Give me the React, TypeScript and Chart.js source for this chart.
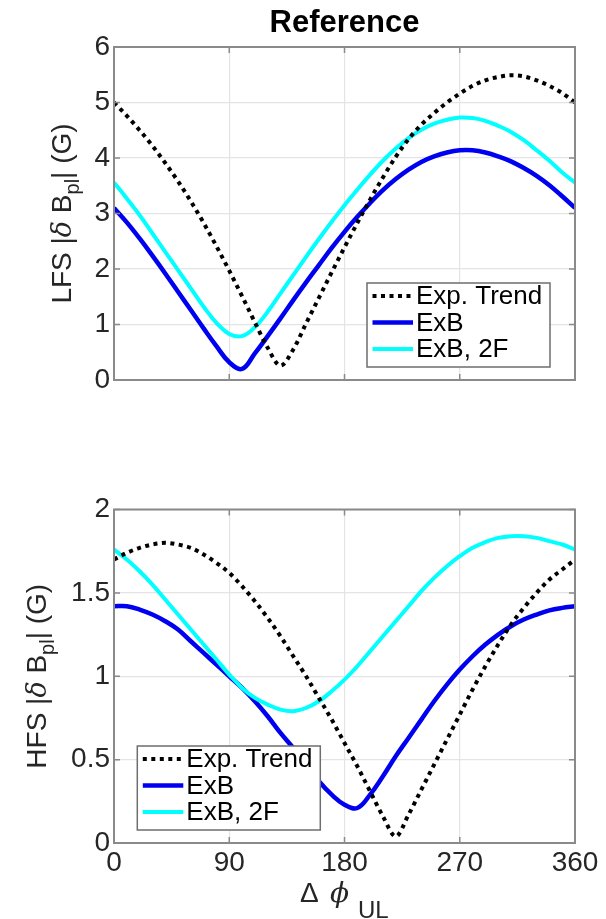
import React, { useEffect, useRef } from "react";
import { Chart, registerables } from "chart.js";

Chart.register(...registerables);

// Phase difference grid (degrees) and axis ticks
const PHI = [
  0, 10, 20, 30, 40, 50, 60, 70, 80, 90, 100, 110, 120, 130, 140, 150, 160, 170, 180,
  190, 200, 210, 220, 230, 240, 250, 260, 270, 280, 290, 300, 310, 320, 330, 340, 350, 360,
];
const PHI_TICKS = [0, 90, 180, 270, 360];
const LFS_TICKS = [0, 1, 2, 3, 4, 5, 6];
const HFS_TICKS = [0, 0.5, 1, 1.5, 2];

const SERIES_NAMES = ["Exp. Trend", "ExB", "ExB, 2F"];

// Low-field side |dB_pl| (G)
const LFS_TREND = [
  5.0, 4.76, 4.5, 4.22, 3.91, 3.58, 3.22, 2.83, 2.41, 1.97, 1.51, 1.04, 0.58, 0.26, 0.55, 1.02,
  1.48, 1.94, 2.39, 2.83, 3.25, 3.65, 4.02, 4.34, 4.6, 4.81, 5.0, 5.16, 5.3, 5.4, 5.46, 5.49,
  5.47, 5.4, 5.3, 5.17, 5.0,
];
const LFS_EXB = [
  3.1, 2.84, 2.55, 2.24, 1.92, 1.59, 1.26, 0.93, 0.61, 0.32, 0.2, 0.48, 0.79, 1.11, 1.44, 1.76,
  2.07, 2.38, 2.67, 2.94, 3.19, 3.42, 3.62, 3.79, 3.93, 4.03, 4.1, 4.14, 4.14, 4.1, 4.03, 3.94,
  3.82, 3.68, 3.51, 3.31, 3.1,
];
const LFS_EXB_2F = [
  3.56, 3.27, 2.97, 2.64, 2.31, 1.98, 1.65, 1.32, 1.03, 0.83, 0.79, 0.95, 1.23, 1.56, 1.89, 2.22,
  2.54, 2.85, 3.15, 3.43, 3.7, 3.95, 4.17, 4.36, 4.51, 4.62, 4.69, 4.73, 4.72, 4.67, 4.58, 4.47,
  4.32, 4.14, 3.95, 3.74, 3.56,
];

// High-field side |dB_pl| (G)
const HFS_TREND = [
  1.7, 1.74, 1.77, 1.79, 1.8, 1.79, 1.77, 1.73, 1.68, 1.62, 1.54, 1.45, 1.35, 1.24, 1.12, 1.0,
  0.87, 0.74, 0.6, 0.46, 0.31, 0.16, 0.04, 0.17, 0.32, 0.47, 0.62, 0.77, 0.92, 1.06, 1.19, 1.31,
  1.41, 1.5, 1.58, 1.64, 1.7,
];
const HFS_EXB = [
  1.42, 1.42, 1.4, 1.37, 1.33, 1.28, 1.21, 1.14, 1.07, 1.0, 0.93, 0.85, 0.76, 0.66, 0.57, 0.47,
  0.37, 0.29, 0.23, 0.21, 0.29, 0.4, 0.52, 0.63, 0.74, 0.85, 0.95, 1.04, 1.12, 1.19, 1.25, 1.3,
  1.34, 1.37, 1.395, 1.41, 1.42,
];
const HFS_EXB_2F = [
  1.76, 1.7, 1.63, 1.55, 1.46, 1.37, 1.28, 1.19, 1.1, 1.01, 0.93, 0.87, 0.83, 0.8, 0.79, 0.81,
  0.85, 0.91, 0.98, 1.06, 1.15, 1.24, 1.33, 1.42, 1.51, 1.59, 1.66, 1.72, 1.77, 1.805, 1.83, 1.84,
  1.84, 1.83, 1.81, 1.79, 1.76,
];

const FONT = "'Liberation Sans', Arial, Helvetica, sans-serif";
const SERIF = "'DejaVu Serif', 'Liberation Serif', serif";
const TEXT_COLOR = "#262626";
const AXIS_COLOR = "#8a8a8a";
const GRID_COLOR = "#e4e4e4";
const TICK_LEN = 6;

const STYLES = [
  { color: "#000000", width: 4, dash: [4, 4.5], smooth: "monotone" },
  { color: "#0000f0", width: 4.5, dash: [] as number[], smooth: "default" },
  { color: "#00ffff", width: 4, dash: [] as number[], smooth: "default" },
];

const LEG_W = 183;
const LEG_H = 84;
const LEG_ROWS = [13, 39.5, 66];

type Part = { text: string; font: string; dy: number };

function drawParts(ctx: CanvasRenderingContext2D, parts: Part[], startX: number) {
  let x = startX;
  for (const p of parts) {
    ctx.font = p.font;
    ctx.fillText(p.text, x, p.dy);
    x += ctx.measureText(p.text).width;
  }
}

function partsWidth(ctx: CanvasRenderingContext2D, parts: Part[]) {
  let w = 0;
  for (const p of parts) {
    ctx.font = p.font;
    w += ctx.measureText(p.text).width;
  }
  return w;
}

const panelDecor = {
  id: "panelDecor",
  afterDatasetsDraw(chart: any, _args: any, o: any) {
    const { ctx, chartArea: a } = chart;
    const xs = chart.scales.x;
    const ys = chart.scales.y;
    ctx.save();
    // inward tick marks on all four sides
    ctx.strokeStyle = AXIS_COLOR;
    ctx.lineWidth = 1.5;
    ctx.beginPath();
    for (const v of PHI_TICKS) {
      const px = xs.getPixelForValue(v);
      ctx.moveTo(px, a.bottom);
      ctx.lineTo(px, a.bottom - TICK_LEN);
      ctx.moveTo(px, a.top);
      ctx.lineTo(px, a.top + TICK_LEN);
    }
    for (const v of o.yTicks) {
      const py = ys.getPixelForValue(v);
      ctx.moveTo(a.left, py);
      ctx.lineTo(a.left + TICK_LEN, py);
      ctx.moveTo(a.right, py);
      ctx.lineTo(a.right - TICK_LEN, py);
    }
    ctx.stroke();
    // axes box
    ctx.lineWidth = 2;
    ctx.strokeRect(a.left, a.top, a.right - a.left, a.bottom - a.top);

    // legend box
    const bx = o.legendSide === "right" ? a.right - o.legendDx : a.left + o.legendDx;
    const by = a.bottom - o.legendDy;
    ctx.fillStyle = "#ffffff";
    ctx.fillRect(bx, by, LEG_W, LEG_H);
    ctx.strokeStyle = "#6e6e6e";
    ctx.lineWidth = 1.5;
    ctx.strokeRect(bx, by, LEG_W, LEG_H);
    chart.data.datasets.forEach((ds: any, i: number) => {
      const cy = by + LEG_ROWS[i];
      ctx.beginPath();
      ctx.strokeStyle = ds.borderColor;
      ctx.lineWidth = ds.borderWidth;
      ctx.setLineDash(ds.borderDash || []);
      ctx.moveTo(bx + 5.5, cy);
      ctx.lineTo(bx + 46, cy);
      ctx.stroke();
      ctx.setLineDash([]);
      ctx.fillStyle = "#000000";
      ctx.font = `26px ${FONT}`;
      ctx.textAlign = "left";
      ctx.textBaseline = "middle";
      ctx.fillText(ds.label, bx + 49, cy + 1);
    });
    ctx.restore();
  },
  afterDraw(chart: any, _args: any, o: any) {
    const { ctx, chartArea: a } = chart;
    ctx.save();
    ctx.fillStyle = TEXT_COLOR;
    ctx.textBaseline = "alphabetic";
    ctx.textAlign = "left";

    if (o.title) {
      ctx.font = `bold 31px ${FONT}`;
      ctx.fillStyle = "#000000";
      ctx.textAlign = "center";
      ctx.fillText(o.title, (a.left + a.right) / 2, o.titleBaseline);
      ctx.textAlign = "left";
      ctx.fillStyle = TEXT_COLOR;
    }

    // rotated y-axis label with subscript
    const main = `28px ${FONT}`;
    const parts: Part[] = [
      { text: `${o.side} |`, font: main, dy: 0 },
      { text: "δ", font: `italic 27px ${SERIF}`, dy: 0 },
      { text: " B", font: main, dy: 0 },
      { text: "pl", font: `20px ${FONT}`, dy: 8 },
      { text: "| (G)", font: main, dy: 0 },
    ];
    const w = partsWidth(ctx, parts);
    ctx.save();
    ctx.translate(o.yLabelX, (a.top + a.bottom) / 2);
    ctx.rotate(-Math.PI / 2);
    drawParts(ctx, parts, -w / 2);
    ctx.restore();

    if (o.xLabel) {
      ctx.font = `28px ${FONT}`;
      ctx.fillText("Δ", 300, o.xLabelBaseline);
      ctx.font = `italic 28px ${SERIF}`;
      ctx.fillText("ϕ", 330, o.xLabelBaseline);
      ctx.font = `24px ${FONT}`;
      ctx.fillText("UL", 358, o.xLabelBaseline + 16);
    }
    ctx.restore();
  },
};

type Panel = {
  series: number[][];
  yTicks: number[];
  yMax: number;
  padTop: number;
  xAxisHeight: number;
  showX: boolean;
  decor: Record<string, unknown>;
};

function makeConfig(p: Panel): any {
  return {
    type: "line",
    data: {
      datasets: p.series.map((vals, i) => ({
        label: SERIES_NAMES[i],
        data: PHI.map((x, k) => ({ x, y: vals[k] })),
        borderColor: STYLES[i].color,
        borderWidth: STYLES[i].width,
        borderDash: STYLES[i].dash,
        borderCapStyle: "butt",
        borderJoinStyle: "round",
        pointRadius: 0,
        fill: false,
        cubicInterpolationMode: STYLES[i].smooth,
        tension: 0.4,
        order: [0, 2, 1][i],
      })),
    },
    options: {
      animation: false,
      responsive: false,
      maintainAspectRatio: false,
      events: [],
      layout: { padding: { left: 0, right: 31, top: p.padTop, bottom: 0 } },
      plugins: {
        legend: { display: false },
        tooltip: { enabled: false },
        title: { display: false },
        panelDecor: { yTicks: p.yTicks, ...p.decor },
      },
      scales: {
        x: {
          type: "linear",
          min: 0,
          max: 360,
          afterBuildTicks: (s: any) => {
            s.ticks = PHI_TICKS.map((v) => ({ value: v }));
          },
          afterFit: (s: any) => {
            s.height = p.xAxisHeight;
          },
          grid: { color: GRID_COLOR, lineWidth: 1.2, drawTicks: false },
          border: { display: false },
          ticks: {
            display: p.showX,
            autoSkip: false,
            maxRotation: 0,
            padding: 3,
            color: TEXT_COLOR,
            font: { family: FONT, size: 28 },
            callback: (v: number) => String(v),
          },
        },
        y: {
          type: "linear",
          min: 0,
          max: p.yMax,
          afterBuildTicks: (s: any) => {
            s.ticks = p.yTicks.map((v) => ({ value: v }));
          },
          afterFit: (s: any) => {
            s.width = 114;
          },
          grid: { color: GRID_COLOR, lineWidth: 1.2, drawTicks: false },
          border: { display: false },
          ticks: {
            autoSkip: false,
            padding: 4,
            color: TEXT_COLOR,
            font: { family: FONT, size: 28 },
            callback: (v: number) => String(v),
          },
        },
      },
    },
    plugins: [panelDecor],
  };
}

export default function App() {
  const topRef = useRef<HTMLCanvasElement>(null);
  const botRef = useRef<HTMLCanvasElement>(null);

  useEffect(() => {
    const top = new Chart(
      topRef.current as HTMLCanvasElement,
      makeConfig({
        series: [LFS_TREND, LFS_EXB, LFS_EXB_2F],
        yTicks: LFS_TICKS,
        yMax: 6,
        padTop: 47,
        xAxisHeight: 80,
        showX: false,
        decor: {
          side: "LFS",
          yLabelX: 71,
          legendSide: "right",
          legendDx: 208,
          legendDy: 97,
          title: "Reference",
          titleBaseline: 32,
        },
      })
    );
    const bottom = new Chart(
      botRef.current as HTMLCanvasElement,
      makeConfig({
        series: [HFS_TREND, HFS_EXB, HFS_EXB_2F],
        yTicks: HFS_TICKS,
        yMax: 2,
        padTop: 49.5,
        xAxisHeight: 76,
        showX: true,
        decor: {
          side: "HFS",
          yLabelX: 46,
          legendSide: "left",
          legendDx: 23.3,
          legendDy: 97,
          xLabel: true,
          xLabelBaseline: 442,
        },
      })
    );
    return () => {
      top.destroy();
      bottom.destroy();
    };
  }, []);

  return (
    <div
      style={{
        position: "absolute",
        left: 0,
        top: 0,
        width: 606,
        height: 919,
        background: "#ffffff",
        overflow: "hidden",
      }}
    >
      <canvas
        ref={topRef}
        width={606}
        height={460}
        style={{ position: "absolute", left: 0, top: 0, width: 606, height: 460 }}
      />
      <canvas
        ref={botRef}
        width={606}
        height={459}
        style={{ position: "absolute", left: 0, top: 460, width: 606, height: 459 }}
      />
    </div>
  );
}
